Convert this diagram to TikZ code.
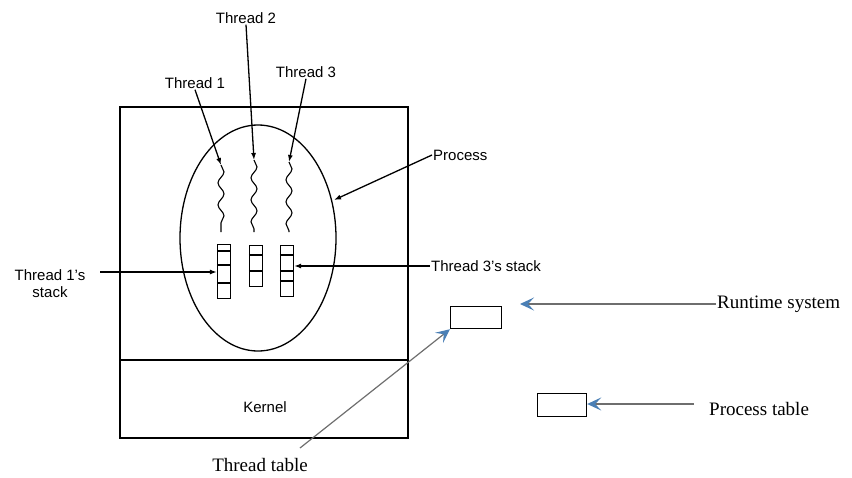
\documentclass[tikz,border=0pt]{standalone}
\usepackage{fontspec}
\setmainfont{Liberation Serif}
\setsansfont{Liberation Sans}
\usetikzlibrary{arrows.meta,positioning,decorations.pathmorphing}
\definecolor{TipBlue}{HTML}{4A7FB5}
\definecolor{LineGray}{HTML}{6E6E6E}
\tikzset{
  sanslabel/.style={font=\sffamily\fontsize{15}{17}\selectfont,inner sep=1pt,align=center},
  seriflabel/.style={font=\rmfamily\fontsize{19}{21}\selectfont,inner sep=1pt},
  stackbox/.style={draw,line width=1.2pt,minimum width=13pt,inner sep=0pt},
  tablebox/.style={draw,line width=1.2pt,inner sep=0pt},
  pointer/.style={-{Latex[length=7pt,width=5pt]},line width=1.3pt},
  bluepointer/.style={-{Stealth[length=14pt,width=13pt,inset=6pt,color=TipBlue]},line width=1.2pt,draw=LineGray},
  thread/.style={line width=1.1pt,decorate,decoration={snake,segment length=22pt,amplitude=3pt}}
}

\begin{document}
\begin{tikzpicture}[x=1pt,y=-1pt]
\useasboundingbox (0,0) rectangle (852,477);
% process box and kernel
\draw[line width=1.6pt] (120,107) rectangle (408,438);
\draw[line width=1.6pt] (120,360) -- (408,360);
\node[sanslabel] (kernel) at (265,407) {Kernel};
\draw[line width=1.3pt] (258,238) ellipse [x radius=78, y radius=113];
\node[sanslabel,anchor=west] (proc) at (432,155) {Process};
\coordinate (procedge) at (334,200);
\draw[pointer] (proc.west) -- (procedge);
% threads
\node[sanslabel] (t1) at (195,83) {Thread 1};
\node[sanslabel] (t2) at (246,18) {Thread 2};
\node[sanslabel] (t3) at (306,72) {Thread 3};
\coordinate (w1) at (221,165);
\coordinate (w2) at (254,160);
\coordinate (w3) at (289,162);
\draw[pointer] (t1.south) -- (w1);
\draw[pointer] (t2.south) -- (w2);
\draw[pointer] (t3.south) -- (w3);
\draw[thread] (w1) -- (221,232);
\draw[thread] (w2) -- (254,232);
\draw[thread] (w3) -- (289,232);
% stacks
\node[stackbox,minimum height=54pt,anchor=north] (s1) at (224,244) {};
\node[stackbox,minimum height=41pt,anchor=north] (s2) at (256,245) {};
\node[stackbox,minimum height=51pt,anchor=north] (s3) at (287,245) {};
\foreach \y in {251,265,283} \draw[line width=1.1pt] (s1.west |- 0,\y) -- (s1.east |- 0,\y);
\foreach \y in {255,271} \draw[line width=1.1pt] (s2.west |- 0,\y) -- (s2.east |- 0,\y);
\foreach \y in {255,271,281} \draw[line width=1.1pt] (s3.west |- 0,\y) -- (s3.east |- 0,\y);
\node[sanslabel] (s1lbl) at (50,284) {Thread 1's\\stack};
\node[sanslabel,anchor=west] (s3lbl) at (430,266) {Thread 3's stack};
\draw[pointer] (100,272) coordinate (s1tail) -- (s1.west |- s1tail);
\draw[pointer] (s3lbl.west) -- (s3.east |- s3lbl.west);
% tables
\node[tablebox,minimum width=51pt,minimum height=22pt,anchor=north west] (rtbox) at (450,306) {};
\node[tablebox,minimum width=49pt,minimum height=23pt,anchor=north west] (ptbox) at (537,393) {};
\node[seriflabel,anchor=west] (rts) at (716,304) {Runtime system};
\node[seriflabel,anchor=west] (pt) at (708,409) {Process table};
\node[seriflabel] (tt) at (260,465) {Thread table};
\draw[bluepointer] (rts.west) -- (520,304);
\draw[bluepointer] ([xshift=-14pt,yshift=5pt]pt.west) -- (ptbox.east |- 0,404);
\draw[bluepointer] (300,448) coordinate (tttail) -- (rtbox.south west);
\end{tikzpicture}
\end{document}
